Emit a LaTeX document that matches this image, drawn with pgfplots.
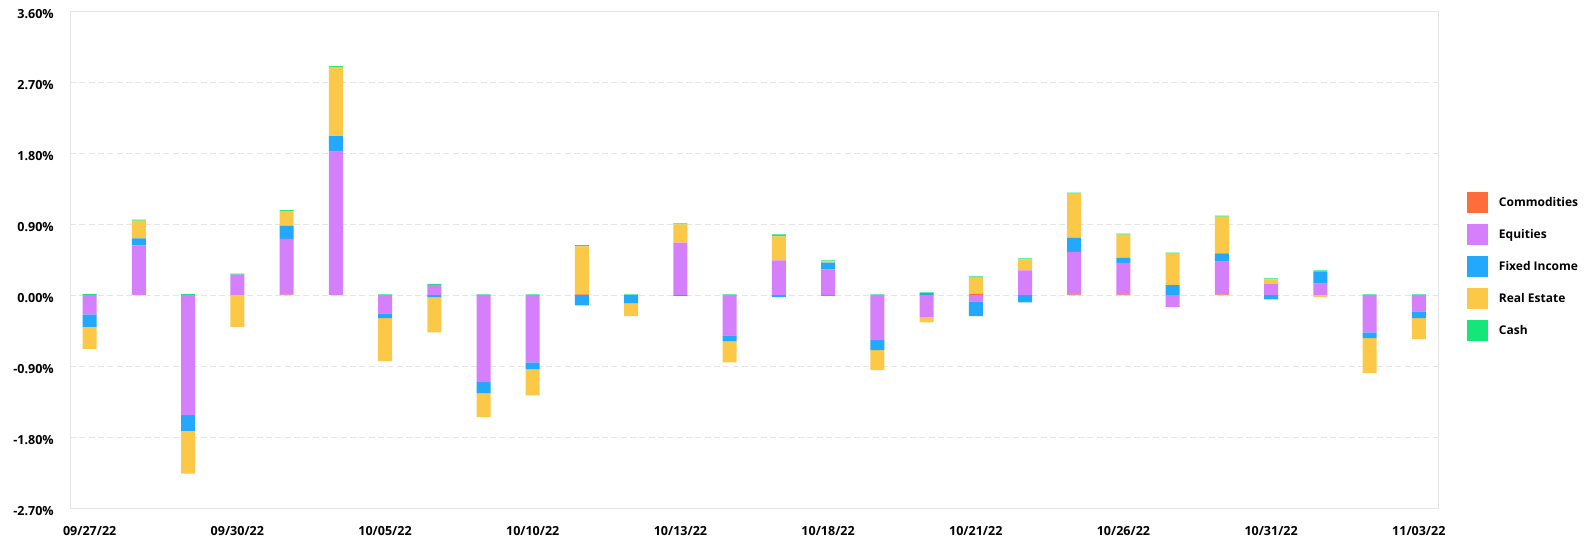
\documentclass[border=0pt]{standalone}
\usepackage{fontspec}
\setmainfont{Open Sans}
\usepackage{pgfplots}
\usepackage{pgfplotstable}
\pgfplotsset{compat=1.18}

\definecolor{comC}{HTML}{FF6D3A}
\definecolor{eqC}{HTML}{D57FFC}
\definecolor{fiC}{HTML}{22A8FD}
\definecolor{reC}{HTML}{FBC947}
\definecolor{cashC}{HTML}{15E67A}

% daily attribution by asset class, in %
\pgfplotstableread{
x  com     eq      fi      re      cash
0  0       -0.244  -0.157  -0.279  0.012
1  0       0.632   0.087   0.226   0.013
2  0       -1.52   -0.20   -0.54   0.012
3  0       0.261   0       -0.40   0.013
4  0.006   0.706   0.166   0.19    0.010
5  0       1.82    0.196   0.875   0.010
6  0       -0.23   -0.06   -0.544  0.010
7  0       0.13    -0.026  -0.444  0.013
8  0       -1.10   -0.139  -0.305  0.010
9  0       -0.85   -0.087  -0.331  0.010
10 0.01    0       -0.13   0.61    0.013
11 0       0       -0.105  -0.161  0.010
12 0       0.666   -0.01   0.231   0.013
13 0       -0.51   -0.074  -0.266  0.010
14 0       0.44    -0.026  0.305   0.024
15 -0.01   0.327   0.087   0.013   0.013
16 0       -0.57   -0.126  -0.253  0.010
17 0       -0.279  0.026   -0.065  0.010
18 0.013   -0.078  -0.187  0.209   0.015
19 0       0.314   -0.091  0.139   0.013
20 0.01    0.54    0.179   0.557   0.013
21 0.01    0.40    0.065   0.292   0.013
22 0       -0.152  0.126   0.40    0.013
23 0.01    0.414   0.105   0.466   0.013
24 0       0.148   -0.052  0.052   0.013
25 0       0.148   0.152   -0.026  0.013
26 0       -0.47   -0.074  -0.444  0.010
27 0       -0.205  -0.087  -0.266  0.010
}\datatable

\pgfplotsset{
  base/.style={
    scale only axis, width=1026pt, height=373pt,
    xmin=-0.40, xmax=27.39, ymin=-2.7, ymax=3.6,
    ybar stacked, bar width=10.5pt,
  },
}

\begin{document}
\begin{tikzpicture}
\path[use as bounding box] (-52.5pt,-23.75pt) rectangle (1139.25pt,381.25pt);

% positive parts, with the frame, ticks and legend
\begin{axis}[base,
    axis line style={draw=gray!20},
    ymajorgrids, grid style={draw=gray!20, dash pattern=on 4.5pt off 2.5pt},
    major tick length=0pt,
    ytick={-2.7,-1.8,-0.9,0,0.9,1.8,2.7,3.6},
    yticklabel={\pgfmathprintnumber[fixed,fixed zerofill,precision=2,assume math mode=true]{\tick}\%},
    xtick={0,3,...,27},
    xticklabels={09/27/22,09/30/22,10/05/22,10/10/22,10/13/22,10/18/22,10/21/22,10/26/22,10/31/22,11/03/22},
    ticklabel style={font=\fontsize{9.4}{11}\selectfont\bfseries, inner sep=0pt},
    yticklabel style={xshift=-12pt, yshift=-2pt},
    xticklabel style={yshift=-13.5pt},
    legend style={draw=none, fill=none, at={(1,0.486)}, anchor=west, xshift=21.5pt,
      inner sep=0pt, row sep=8pt, column sep=8pt,
      font=\fontsize{9}{11}\selectfont\bfseries, nodes={inner sep=0pt}},
    legend cell align=left,
    legend image code/.code={\fill[#1] (0pt,-8pt) rectangle (16pt,8pt);},
  ]
\addplot[fill=comC, draw=none] table[x=x, y expr={max(\thisrow{com},0)}] {\datatable};
\addplot[fill=eqC, draw=none] table[x=x, y expr={max(\thisrow{eq},0)}] {\datatable};
\addplot[fill=fiC, draw=none] table[x=x, y expr={max(\thisrow{fi},0)}] {\datatable};
\addplot[fill=reC, draw=none] table[x=x, y expr={max(\thisrow{re},0)}] {\datatable};
\addplot[fill=cashC, draw=none] table[x=x, y expr={max(\thisrow{cash},0)}] {\datatable};
\legend{Commodities, Equities, Fixed Income, Real Estate, Cash}
\end{axis}

% negative parts, stacked downward from zero
\begin{axis}[base, hide axis]
\addplot[fill=comC, draw=none] table[x=x, y expr={min(\thisrow{com},0)}] {\datatable};
\addplot[fill=eqC, draw=none] table[x=x, y expr={min(\thisrow{eq},0)}] {\datatable};
\addplot[fill=fiC, draw=none] table[x=x, y expr={min(\thisrow{fi},0)}] {\datatable};
\addplot[fill=reC, draw=none] table[x=x, y expr={min(\thisrow{re},0)}] {\datatable};
\addplot[fill=cashC, draw=none] table[x=x, y expr={min(\thisrow{cash},0)}] {\datatable};
\end{axis}
\end{tikzpicture}
\end{document}
